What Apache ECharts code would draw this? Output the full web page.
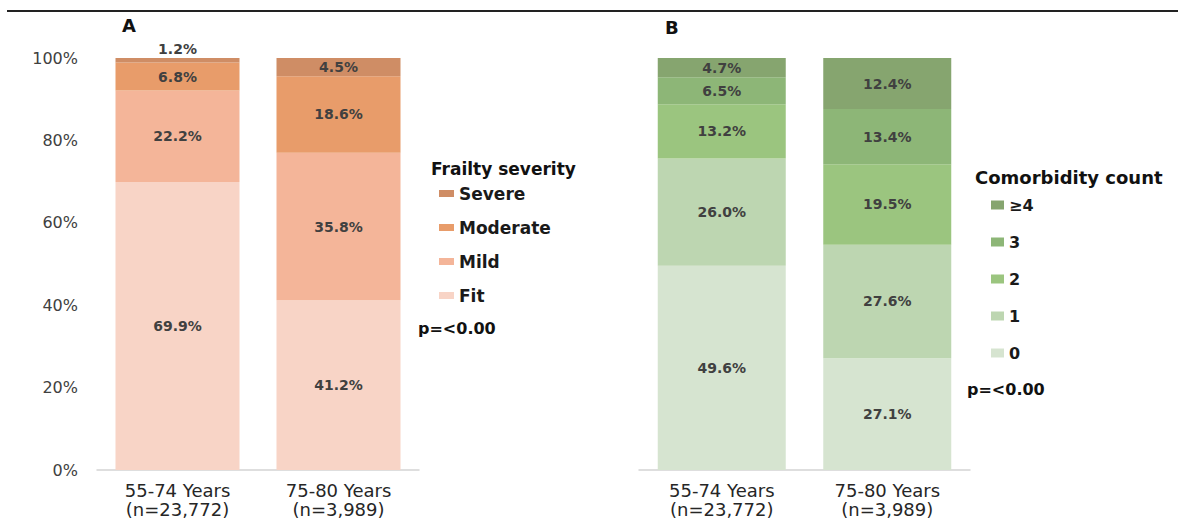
<!DOCTYPE html>
<html>
<head>
<meta charset="utf-8">
<script src="https://cdn.jsdelivr.net/npm/echarts@6/dist/echarts.min.js"></script>
<style>
  html, body { margin: 0; padding: 0; background: #fff; }
  #chart { width: 1178px; height: 520px; }
</style>
</head>
<body>
<div id="chart"></div>
<script>
// categories
const ageGroups = ['55-74 Years\n(n=23,772)', '75-80 Years\n(n=3,989)'];
const yTicks = [0, 20, 40, 60, 80, 100];

// panel A: frailty severity (%)
const frailtyNames = ['Fit', 'Mild', 'Moderate', 'Severe'];
const fitValues = [69.9, 41.2];
const mildValues = [22.2, 35.8];
const moderateValues = [6.8, 18.6];
const severeValues = [1.2, 4.5];

// panel B: comorbidity count (%)
const comorbNames = ['0', '1', '2', '3', '≥4'];
const comorb0 = [49.6, 27.1];
const comorb1 = [26.0, 27.6];
const comorb2 = [13.2, 19.5];
const comorb3 = [6.5, 13.4];
const comorb4 = [4.7, 12.4];

const frailtyColors = ['#F8D4C6', '#F4B599', '#E89C6A', '#CF8D65'];
const comorbColors = ['#D6E4D0', '#BDD6B1', '#9BC57F', '#8DB677', '#86A56F'];

const FONT = '"DejaVu Sans", sans-serif';

const chart = echarts.init(document.getElementById('chart'), null, { renderer: 'svg' });

// small segments get their label above the bar
const toData = (values) => values.map(v => v < 2 ? { value: v, label: { position: 'top', distance: 2 } } : v);

const makeSeries = (name, values, color, axisIndex, stack, width) => ({
  name: name,
  type: 'bar',
  stack: stack,
  xAxisIndex: axisIndex,
  yAxisIndex: axisIndex,
  barWidth: width,
  itemStyle: { color: color },
  label: {
    show: true,
    position: 'inside',
    formatter: p => p.value.toFixed(1) + '%',
    color: '#404040',
    fontFamily: FONT,
    fontWeight: 'bold',
    fontSize: 14
  },
  emphasis: { disabled: true },
  data: toData(values)
});

const xAxisBase = (gridIndex) => ({
  type: 'category',
  gridIndex: gridIndex,
  data: ageGroups,
  axisTick: { show: false },
  axisLine: { lineStyle: { color: '#d4d4d4', width: 1.5 } },
  axisLabel: {
    color: '#262626',
    fontFamily: FONT,
    fontSize: 18,
    lineHeight: 19,
    margin: 11
  }
});

const frailtyValues = [fitValues, mildValues, moderateValues, severeValues];
const comorbValues = [comorb0, comorb1, comorb2, comorb3, comorb4];

const option = {
  animation: false,
  backgroundColor: '#fff',
  grid: [
    { left: 97, top: 58, width: 322, height: 412 },
    { left: 639, top: 58, width: 331, height: 412 }
  ],
  xAxis: [xAxisBase(0), xAxisBase(1)],
  yAxis: [
    {
      type: 'value',
      gridIndex: 0,
      min: yTicks[0],
      max: yTicks[yTicks.length - 1],
      interval: 20,
      axisLine: { show: false },
      axisTick: { show: false },
      splitLine: { show: false },
      axisLabel: {
        formatter: '{value}%',
        color: '#404040',
        fontFamily: FONT,
        fontSize: 16,
        margin: 19
      }
    },
    {
      type: 'value',
      gridIndex: 1,
      min: 0,
      max: 100,
      interval: 20,
      axisLine: { show: false },
      axisTick: { show: false },
      splitLine: { show: false },
      axisLabel: { show: false }
    }
  ],
  legend: [
    {
      data: frailtyNames.slice().reverse(),
      orient: 'vertical',
      left: 434,
      top: 180,
      itemWidth: 15,
      itemHeight: 7,
      itemGap: 17,
      icon: 'rect',
      selectedMode: false,
      textStyle: {
        color: '#1a1a1a',
        fontFamily: FONT,
        fontWeight: 'bold',
        fontSize: 17
      }
    },
    {
      data: comorbNames.slice().reverse(),
      orient: 'vertical',
      left: 986,
      top: 192,
      itemWidth: 13,
      itemHeight: 9,
      itemGap: 21,
      icon: 'rect',
      selectedMode: false,
      textStyle: {
        color: '#1a1a1a',
        fontFamily: FONT,
        fontWeight: 'bold',
        fontSize: 16
      }
    }
  ],
  graphic: [
    { type: 'line', shape: { x1: 7, y1: 11, x2: 1178, y2: 11 }, style: { stroke: '#222', lineWidth: 2 } },
    { type: 'text', x: 122, y: 25, style: { text: 'A', font: 'bold 18px ' + FONT, fill: '#111', verticalAlign: 'middle' } },
    { type: 'text', x: 665, y: 27, style: { text: 'B', font: 'bold 18px ' + FONT, fill: '#111', verticalAlign: 'middle' } },
    { type: 'text', x: 431, y: 169, style: { text: 'Frailty severity', font: 'bold 17px ' + FONT, fill: '#111', verticalAlign: 'middle' } },
    { type: 'text', x: 418, y: 328, style: { text: 'p=<0.00', font: 'bold 16px ' + FONT, fill: '#111', verticalAlign: 'middle' } },
    { type: 'text', x: 975, y: 177, style: { text: 'Comorbidity count', font: 'bold 18px ' + FONT, fill: '#111', verticalAlign: 'middle' } },
    { type: 'text', x: 967, y: 389, style: { text: 'p=<0.00', font: 'bold 16px ' + FONT, fill: '#111', verticalAlign: 'middle' } }
  ],
  series: [
    ...frailtyNames.map((n, i) => makeSeries(n, frailtyValues[i], frailtyColors[i], 0, 'frailty', 124)),
    ...comorbNames.map((n, i) => makeSeries(n, comorbValues[i], comorbColors[i], 1, 'comorb', 128))
  ]
};

chart.setOption(option);
</script>
</body>
</html>
